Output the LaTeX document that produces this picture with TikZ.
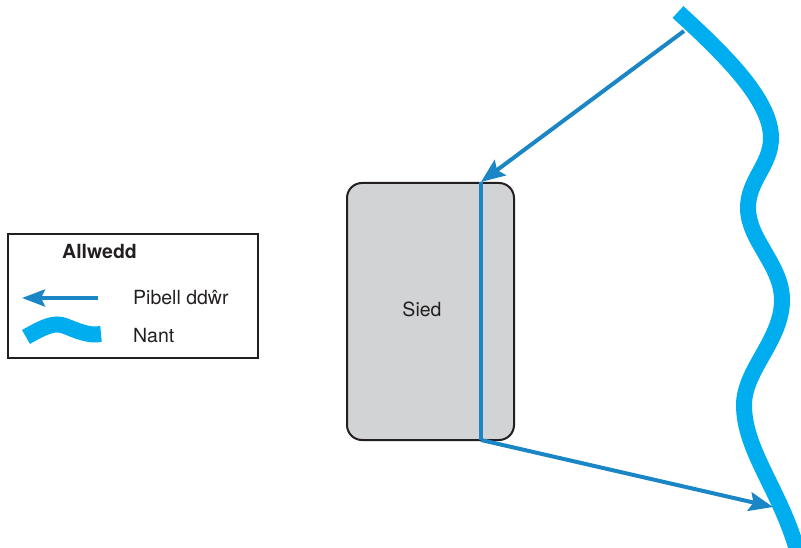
\documentclass[tikz,border=0pt]{standalone}
\usepackage{fontspec}
\setmainfont{TeX Gyre Heros}
\usetikzlibrary{arrows.meta}
\definecolor{pipeblue}{RGB}{27,134,198}
\definecolor{rivercyan}{RGB}{0,174,239}
\definecolor{shedgray}{RGB}{209,211,212}
\definecolor{inkdark}{RGB}{35,31,32}
\tikzset{
  pipe/.style={draw=pipeblue, line width=4pt},
  pipearrow/.style={pipe, -{Stealth[length=24pt,width=19pt,inset=4pt]}},
  river/.style={draw=rivercyan, line width=16pt},
  lbl/.style={font=\fontsize{19.5}{22}\selectfont, text=inkdark, inner sep=0pt},
}
\begin{document}
\begin{tikzpicture}[x=1pt,y=-1pt]
\useasboundingbox (0,0) rectangle (801,548);
% shed
\node[draw=inkdark, line width=2pt, fill=shedgray, rounded corners=15pt,
      minimum width=167pt, minimum height=257pt, inner sep=0pt] (shed) at (430.5,311.5) {};
\node[lbl] (shedlbl) at (422,309) {Sied};
% river
\draw[river] (678,12) .. controls (725,55) and (771,100) .. (771,138)
  .. controls (771,165) and (748,180) .. (748,208)
  .. controls (748,240) and (782,265) .. (782,300)
  .. controls (782,340) and (744,370) .. (744,405)
  .. controls (744,450) and (780,490) .. (797,550);
% pipes
\coordinate (src) at (684,31);
\coordinate (pt) at (481,182);
\coordinate (pb) at (481,440);
\coordinate (dst) at (773,507);
\draw[pipearrow] (src) -- (pt);
\draw[pipe] (pt) -- (pb);
\draw[pipearrow] (pb) -- (dst);
% legend
\node[draw=inkdark, line width=2pt, minimum width=250pt, minimum height=124pt, inner sep=0pt] (key) at (132.5,296) {};
\node[lbl, anchor=base west, font=\fontsize{19.5}{22}\selectfont\bfseries] (keytitle) at (62,259) {Allwedd};
\coordinate (ka) at (98,298);
\coordinate (kb) at (22,298);
\draw[pipe, -{Stealth[length=23pt,width=17pt,inset=4pt]}] (ka) -- (kb);
\node[lbl, anchor=base west] (kpipe) at (133,305) {Pibell ddŵr};
\draw[river] (26,337) .. controls (45,326) and (55,322) .. (65,326) .. controls (78,331) and (88,336) .. (101,334);
\node[lbl, anchor=base west] (kriver) at (133,342) {Nant};
\end{tikzpicture}
\end{document}
